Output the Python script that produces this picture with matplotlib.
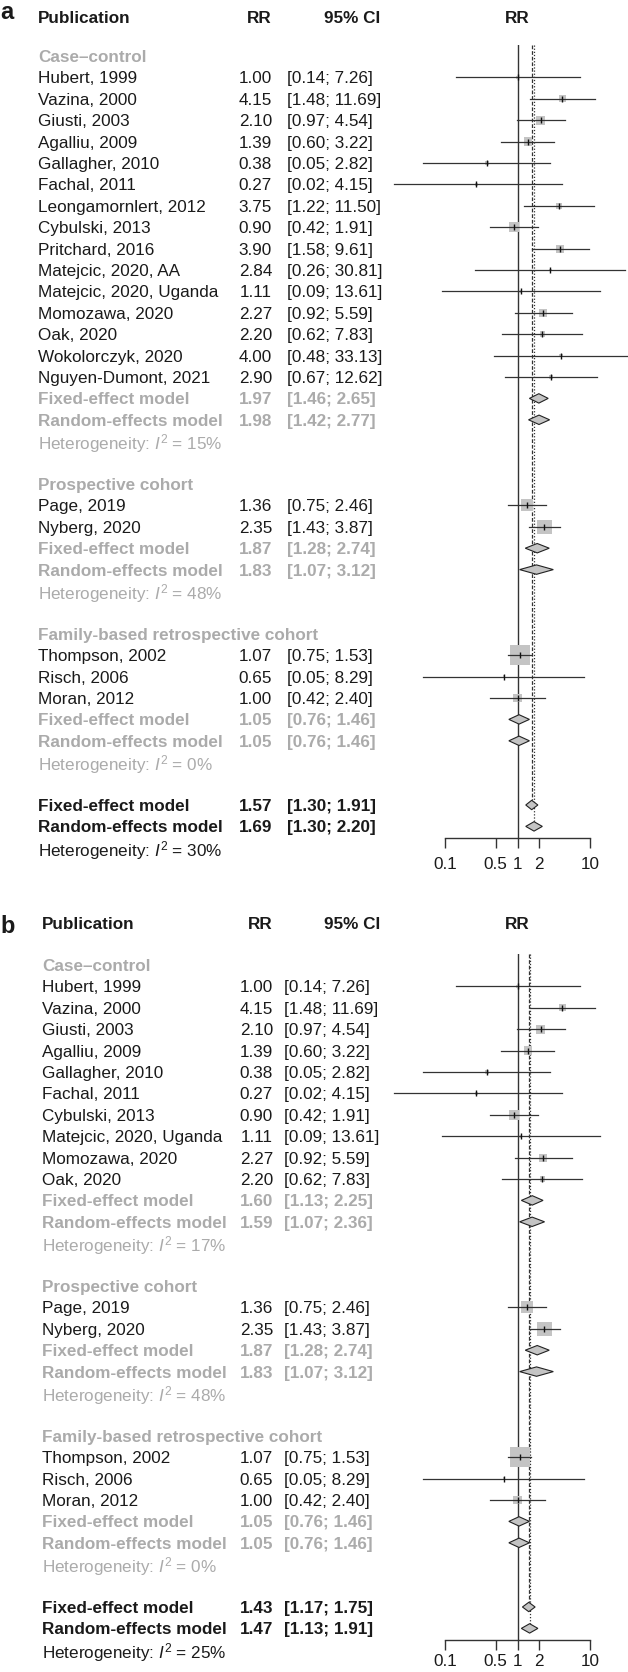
import matplotlib
matplotlib.use('Agg')
import matplotlib.pyplot as plt
import matplotlib.transforms as mtransforms
from matplotlib.ticker import NullLocator
import numpy as np

plt.rcParams['font.family'] = ['Liberation Sans', 'DejaVu Sans']
plt.rcParams['mathtext.fontset'] = 'custom'
plt.rcParams['mathtext.rm'] = 'Liberation Sans'
plt.rcParams['mathtext.it'] = 'Liberation Sans:italic'
plt.rcParams['mathtext.bf'] = 'Liberation Sans:bold'

# ---- data ----
groups = ['Case\u2013control', 'Prospective cohort', 'Family-based retrospective cohort']

# panel a
a_study = ['Hubert, 1999', 'Vazina, 2000', 'Giusti, 2003', 'Agalliu, 2009', 'Gallagher, 2010',
           'Fachal, 2011', 'Leongamornlert, 2012', 'Cybulski, 2013', 'Pritchard, 2016',
           'Matejcic, 2020, AA', 'Matejcic, 2020, Uganda', 'Momozawa, 2020', 'Oak, 2020',
           'Wokolorczyk, 2020', 'Nguyen-Dumont, 2021',
           'Page, 2019', 'Nyberg, 2020',
           'Thompson, 2002', 'Risch, 2006', 'Moran, 2012']
a_group = [0] * 15 + [1] * 2 + [2] * 3
a_rr = [1.00, 4.15, 2.10, 1.39, 0.38, 0.27, 3.75, 0.90, 3.90, 2.84, 1.11, 2.27, 2.20, 4.00, 2.90,
        1.36, 2.35, 1.07, 0.65, 1.00]
a_lo = [0.14, 1.48, 0.97, 0.60, 0.05, 0.02, 1.22, 0.42, 1.58, 0.26, 0.09, 0.92, 0.62, 0.48, 0.67,
        0.75, 1.43, 0.75, 0.05, 0.42]
a_hi = [7.26, 11.69, 4.54, 3.22, 2.82, 4.15, 11.50, 1.91, 9.61, 30.81, 13.61, 5.59, 7.83, 33.13, 12.62,
        2.46, 3.87, 1.53, 8.29, 2.40]
a_fix = [(1.97, 1.46, 2.65), (1.87, 1.28, 2.74), (1.05, 0.76, 1.46)]
a_ran = [(1.98, 1.42, 2.77), (1.83, 1.07, 3.12), (1.05, 0.76, 1.46)]
a_i2 = [15, 48, 0]
a_tot_fix = (1.57, 1.30, 1.91)
a_tot_ran = (1.69, 1.30, 2.20)
a_tot_i2 = 30

# panel b
b_study = ['Hubert, 1999', 'Vazina, 2000', 'Giusti, 2003', 'Agalliu, 2009', 'Gallagher, 2010',
           'Fachal, 2011', 'Cybulski, 2013', 'Matejcic, 2020, Uganda', 'Momozawa, 2020', 'Oak, 2020',
           'Page, 2019', 'Nyberg, 2020',
           'Thompson, 2002', 'Risch, 2006', 'Moran, 2012']
b_group = [0] * 10 + [1] * 2 + [2] * 3
b_rr = [1.00, 4.15, 2.10, 1.39, 0.38, 0.27, 0.90, 1.11, 2.27, 2.20,
        1.36, 2.35, 1.07, 0.65, 1.00]
b_lo = [0.14, 1.48, 0.97, 0.60, 0.05, 0.02, 0.42, 0.09, 0.92, 0.62,
        0.75, 1.43, 0.75, 0.05, 0.42]
b_hi = [7.26, 11.69, 4.54, 3.22, 2.82, 4.15, 1.91, 13.61, 5.59, 7.83,
        2.46, 3.87, 1.53, 8.29, 2.40]
b_fix = [(1.60, 1.13, 2.25), (1.87, 1.28, 2.74), (1.05, 0.76, 1.46)]
b_ran = [(1.59, 1.07, 2.36), (1.83, 1.07, 3.12), (1.05, 0.76, 1.46)]
b_i2 = [17, 48, 0]
b_tot_fix = (1.43, 1.17, 1.75)
b_tot_ran = (1.47, 1.13, 1.91)
b_tot_i2 = 25

xticks = [0.1, 0.5, 1, 2, 10]
xtick_labels = ['0.1', '0.5', '1', '2', '10']

# ---- style ----
W, H = 628, 1672
ROW = 21.4
FS = 12.3
BLACK = '#1a1a1a'
GREY = '#ababab'
BOX = '#c4c4c4'
LINE = '#333333'

fig = plt.figure(figsize=(W / 100, H / 100), dpi=100)


def forest(letter, row0, axis_px, letter_y, header_row, text_x, rr_x, ci_x, label_pad,
           study, group, rr, lo, hi, g_fix, g_ran, g_i2, t_fix, t_ran, t_i2):
    axis_row = (axis_px - row0) / ROW
    top_px = row0 - 0.5 * ROW
    ax = fig.add_axes([445 / W, 1 - axis_px / H, 145 / W, (axis_px - top_px) / H])
    ax.set_xscale('log')
    ax.set_xlim(0.1, 10)
    ax.set_ylim(axis_row, -0.5)
    ax.patch.set_alpha(0)
    for s in ['top', 'left', 'right']:
        ax.spines[s].set_visible(False)
    ax.spines['bottom'].set_color(LINE)
    ax.spines['bottom'].set_linewidth(1.0)
    ax.set_yticks([])
    ax.set_xticks(xticks)
    ax.set_xticklabels(xtick_labels)
    ax.xaxis.set_minor_locator(NullLocator())
    ax.tick_params(axis='x', length=7, width=1.0, color=LINE, labelsize=FS,
                   labelcolor=BLACK, pad=label_pad)

    tr = mtransforms.blended_transform_factory(fig.transFigure, ax.transData)

    def txt(x, y, s, color=BLACK, bold=False, ha='left'):
        ax.text(x / W, y, s, transform=tr, fontsize=FS, color=color, ha=ha,
                va='center_baseline', fontweight='bold' if bold else 'normal')

    def values(y, r, l, h, color=BLACK, bold=False):
        txt(rr_x, y, f'{r:.2f}', color, bold, ha='right')
        txt(ci_x, y, f'[{l:.2f}; {h:.2f}]', color, bold)

    def diamond(y, r, l, h):
        ax.fill([l, r, h, r], [y, y - 0.22, y, y + 0.22], facecolor=BOX,
                edgecolor='#222222', lw=0.8, zorder=4, clip_on=False)

    # headers
    fig.text(0 / W, 1 - letter_y / H, letter, fontsize=17, fontweight='bold',
             color=BLACK, ha='left', va='center_baseline')
    txt(text_x, header_row, 'Publication', bold=True)
    txt(rr_x, header_row, 'RR', bold=True, ha='right')
    txt(380, header_row, '95% CI', bold=True, ha='right')
    ax.text(1, header_row, 'RR', fontsize=FS, fontweight='bold', color=BLACK,
            ha='center', va='center_baseline')

    # weights from the confidence intervals (inverse variance)
    lo_a, hi_a = np.array(lo), np.array(hi)
    se = (np.log(hi_a) - np.log(lo_a)) / (2 * 1.96)
    w = 1 / se ** 2
    side = 3.65 * np.sqrt(w)

    y = 0
    for g, gname in enumerate(groups):
        txt(text_x, y, gname, GREY, bold=True)
        y += 1
        for i in [k for k in range(len(study)) if group[k] == g]:
            txt(text_x, y, study[i])
            values(y, rr[i], lo[i], hi[i])
            ax.scatter([rr[i]], [y], marker='s', s=(side[i] * 0.72) ** 2, color=BOX,
                       edgecolors='none', zorder=2, clip_on=False)
            ax.plot([lo[i], hi[i]], [y, y], color=LINE, lw=0.9, zorder=3, clip_on=False)
            ax.plot([rr[i]], [y], marker='|', ms=4, mew=1.0, color='#111111', zorder=3)
            y += 1
        txt(text_x, y, 'Fixed-effect model', GREY, bold=True)
        values(y, *g_fix[g], color=GREY, bold=True)
        diamond(y, *g_fix[g])
        y += 1
        txt(text_x, y, 'Random-effects model', GREY, bold=True)
        values(y, *g_ran[g], color=GREY, bold=True)
        diamond(y, *g_ran[g])
        y += 1
        txt(text_x, y, f'Heterogeneity: $I^2$ = {g_i2[g]}%', GREY)
        y += 2

    fix_row = y
    txt(text_x, y, 'Fixed-effect model', bold=True)
    values(y, *t_fix, bold=True)
    diamond(y, *t_fix)
    y += 1
    ran_row = y
    txt(text_x, y, 'Random-effects model', bold=True)
    values(y, *t_ran, bold=True)
    diamond(y, *t_ran)
    y += 1
    txt(text_x, y, f'Heterogeneity: $I^2$ = {t_i2}%')

    # reference lines
    ax.plot([1, 1], [-0.5, axis_row], color=LINE, lw=1.0, zorder=1)
    ax.plot([t_fix[0]] * 2, [-0.5, fix_row - 0.22], color=LINE, lw=0.9,
            ls=(0, (3, 1.5)), zorder=1)
    ax.plot([t_ran[0]] * 2, [-0.5, ran_row - 0.22], color=LINE, lw=0.9,
            ls=(0, (1, 1.5)), zorder=1)
    return ax


forest('a', 56, 838, 10, -1.82, 38, 272, 287, 7,
       a_study, a_group, a_rr, a_lo, a_hi, a_fix, a_ran, a_i2, a_tot_fix, a_tot_ran, a_tot_i2)
forest('b', 965, 1640, 924, -1.96, 42, 273, 284, 3,
       b_study, b_group, b_rr, b_lo, b_hi, b_fix, b_ran, b_i2, b_tot_fix, b_tot_ran, b_tot_i2)

fig.savefig('out.png', dpi=100, facecolor='white')
